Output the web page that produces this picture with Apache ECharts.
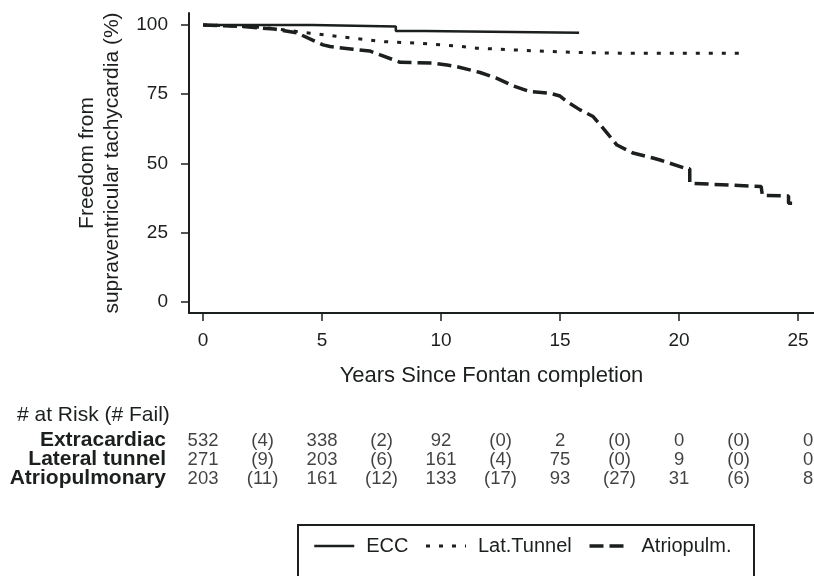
<!DOCTYPE html>
<html>
<head>
<meta charset="utf-8">
<script src="https://cdn.jsdelivr.net/npm/echarts@6/dist/echarts.min.js"></script>
<style>
html,body{margin:0;padding:0;background:#fff;}
#chart{width:814px;height:576px;}
</style>
</head>
<body>
<div id="chart"></div>
<script>
// ---- data ----
const xTicks = [0, 5, 10, 15, 20, 25];
const yTicks = [0, 25, 50, 75, 100];

const eccCurve = [[0,100],[4.6,100],[4.6,99.4],[8.1,99.4],[8.1,97.8],[9.3,97.8],[9.3,97.2],[15.8,97.2]];
const ltCurve = [[0,100],[1,99.7],[2.5,99.1],[3.5,98.1],[4.5,97.0],[5.5,96.0],[6.5,95.0],[7.5,94.0],[9,93.4],[10.5,92.5],[11.5,91.6],[13,91.0],[14.5,90.4],[16,90.0],[17.5,89.8],[22.7,89.8]];
const apCurve = [[0,100],[1.5,99.5],[3,98.5],[3.95,97.1],[4.6,94.5],[5.04,92.8],[5.34,92.2],[6.3,91.2],[7.0,90.6],[7.44,89.2],[8.28,86.5],[9.66,86.2],[10.25,85.5],[10.67,84.9],[11.64,82.8],[12.35,80.7],[13.03,78.0],[13.74,75.9],[14.58,75.3],[15.0,74.3],[15.29,72.3],[15.84,69.3],[16.39,66.9],[16.97,61.0],[17.39,56.6],[18.07,53.7],[18.9,51.9],[19.2,51.2],[20.34,48.0],[20.45,48.0],[20.45,42.8],[23.45,41.6],[23.5,41.6],[23.5,38.4],[24.6,38.2],[24.6,35.6],[24.75,35.6]];

const seriesNames = ['ECC', 'Lat.Tunnel', 'Atriopulm.'];

const rowLabels = ['Extracardiac', 'Lateral tunnel', 'Atriopulmonary'];
const riskTimes = [0, 5, 10, 15, 20, 25];
const failTimes = [2.5, 7.5, 12.5, 17.5, 22.5];
const ecAtRisk = [532, 338, 92, 2, 0, 0];
const ecFail = [4, 2, 0, 0, 0];
const ltAtRisk = [271, 203, 161, 75, 9, 0];
const ltFail = [9, 6, 4, 0, 0];
const apAtRisk = [203, 161, 133, 93, 31, 8];
const apFail = [11, 12, 17, 27, 6];

// ---- build ----
const INK = '#1b1f1d';
const FONT = 'Liberation Sans, Arial, Helvetica, sans-serif';
const X_MIN = -0.59, X_MAX = 25.67;
const dashes = { ecc: 'solid', lt: [4, 9], ap: [14, 6] };

function tableRow(name, atRisk, fail) {
  const d = [];
  atRisk.forEach((v, i) => d.push({ value: [riskTimes[i], name, '' + v],
    label: i === atRisk.length - 1 ? { offset: [10, 0] } : {} }));
  fail.forEach((v, i) => d.push({ value: [failTimes[i], name, '(' + v + ')'] }));
  return {
    type: 'scatter', xAxisIndex: 1, yAxisIndex: 1, symbolSize: 0, silent: true,
    data: d,
    label: { show: true, position: 'inside', formatter: p => p.value[2],
      color: '#111', fontSize: 18.5, fontFamily: FONT },
    tooltip: { show: false }
  };
}

const option = {
  animation: false,
  backgroundColor: '#fff',
  textStyle: { fontFamily: FONT, color: INK },
  title: {
    text: '# at Risk (# Fail)', left: 12, top: 400,
    textStyle: { fontSize: 21, fontWeight: 'normal', color: INK, fontFamily: FONT }
  },
  grid: [
    { left: 189, right: 0, top: 13, bottom: 263 },
    { left: 189, right: 0, top: 431, height: 57 }
  ],
  xAxis: [{
    type: 'value', min: X_MIN, max: X_MAX, gridIndex: 0,
    name: 'Years Since Fontan completion', nameLocation: 'middle', nameGap: 52,
    nameTextStyle: { fontSize: 22, color: INK, fontFamily: FONT, padding: [0, 20, 0, 0] },
    axisLine: { show: true, onZero: false, lineStyle: { color: INK, width: 2 } },
    axisTick: { show: true, length: 8, lineStyle: { color: INK, width: 1.5 }, customValues: xTicks },
    axisLabel: { fontSize: 19, color: INK, margin: 18, customValues: xTicks, fontFamily: FONT },
    splitLine: { show: false }
  }, {
    type: 'value', min: X_MIN, max: X_MAX, gridIndex: 1, show: false
  }],
  yAxis: [{
    type: 'value', min: -4.08, max: 104.3, gridIndex: 0,
    name: 'Freedom from\nsupraventricular tachycardia (%)', nameLocation: 'middle',
    nameRotate: 90, nameGap: 64,
    nameTextStyle: { fontSize: 21, lineHeight: 25, color: INK, fontFamily: FONT },
    axisLine: { show: true, onZero: false, lineStyle: { color: INK, width: 2 } },
    axisTick: { show: true, length: 8, lineStyle: { color: INK, width: 1.5 }, customValues: yTicks },
    axisLabel: { fontSize: 19, color: INK, margin: 21, customValues: yTicks, fontFamily: FONT },
    splitLine: { show: false }
  }, {
    type: 'category', gridIndex: 1, data: rowLabels, inverse: true,
    axisLine: { show: false }, axisTick: { show: false }, splitLine: { show: false },
    axisLabel: { interval: 0, fontSize: 21, fontWeight: 'bold', color: INK, margin: 23, fontFamily: FONT }
  }],
  legend: {
    data: [
      { name: seriesNames[0], lineStyle: { type: dashes.ecc, width: 2.5 } },
      { name: seriesNames[1], lineStyle: { type: dashes.lt, width: 3 } },
      { name: seriesNames[2], lineStyle: { type: dashes.ap, width: 3.5 } }
    ],
    left: 308, top: 531, itemWidth: 40, itemHeight: 14, itemGap: 16,
    itemStyle: { opacity: 0 },
    textStyle: { fontSize: 20, color: INK, fontFamily: FONT, padding: [0, 0, 0, 7] }
  },
  graphic: [{
    type: 'rect', shape: { x: 298, y: 525, width: 456, height: 80 },
    style: { fill: 'none', stroke: INK, lineWidth: 2 }, silent: true
  }],
  series: [
    { name: seriesNames[0], type: 'line', data: eccCurve, symbol: 'none', xAxisIndex: 0, yAxisIndex: 0,
      lineStyle: { color: INK, width: 2.5, type: dashes.ecc }, itemStyle: { color: INK } },
    { name: seriesNames[1], type: 'line', data: ltCurve, symbol: 'none', xAxisIndex: 0, yAxisIndex: 0,
      lineStyle: { color: INK, width: 3, type: dashes.lt }, itemStyle: { color: INK } },
    { name: seriesNames[2], type: 'line', data: apCurve, symbol: 'none', xAxisIndex: 0, yAxisIndex: 0,
      lineStyle: { color: INK, width: 3.5, type: dashes.ap }, itemStyle: { color: INK } },
    tableRow(rowLabels[0], ecAtRisk, ecFail),
    tableRow(rowLabels[1], ltAtRisk, ltFail),
    tableRow(rowLabels[2], apAtRisk, apFail)
  ]
};

const chart = echarts.init(document.getElementById('chart'), null, { renderer: 'canvas' });
chart.setOption(option);
</script>
</body>
</html>
